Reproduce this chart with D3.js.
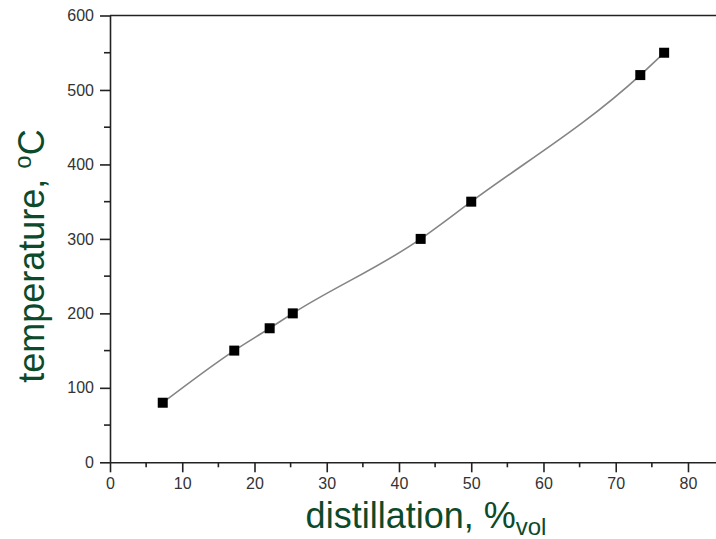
<!DOCTYPE html>
<html><head><meta charset="utf-8">
<script src="https://cdn.jsdelivr.net/npm/d3@7"></script>
<style>body{margin:0;background:#fff}</style>
</head><body>
<svg id="c" width="716" height="539"></svg>
<script>
const distillation = [7.3, 17.2, 22.1, 25.3, 43.0, 50.0, 73.4, 76.7];
const temperature = [80, 150, 180, 200, 300, 350, 520, 550];
const xTicks = [0, 10, 20, 30, 40, 50, 60, 70, 80];
const yTicks = [0, 100, 200, 300, 400, 500, 600];

const svg = d3.select("#c");
const x = d3.scaleLinear().domain([0, 85]).range([110, 724.1]);
const y = d3.scaleLinear().domain([0, 600]).range([462.3, 15.5]);
const axisCol = "#222";
const font = "Arial, Liberation Sans, sans-serif";

// top border
svg.append("line").attr("x1", 110).attr("x2", 716).attr("y1", y(600)).attr("y2", y(600))
  .attr("stroke", axisCol).attr("stroke-width", 1.6);

// x axis
const xMinor = d3.range(5, 85, 10);
const gx = svg.append("g").attr("transform", `translate(0,${y(0)})`);
gx.call(d3.axisBottom(x).tickValues(xTicks).tickFormat(d3.format("d")).tickSize(10).tickSizeOuter(0));
gx.select(".domain").attr("stroke", axisCol).attr("stroke-width", 1.6);
gx.selectAll(".tick line").attr("stroke", axisCol).attr("stroke-width", 1.6);
gx.selectAll(".tick text").attr("font-family", font).attr("font-size", 16).attr("fill", "#333").attr("dy", "0.875em");
gx.selectAll(".minor").data(xMinor).enter().append("line").attr("class", "minor")
  .attr("x1", d => x(d)).attr("x2", d => x(d)).attr("y1", 0).attr("y2", 5)
  .attr("stroke", axisCol).attr("stroke-width", 1.6);

// y axis
const yMinor = d3.range(50, 600, 100);
const gy = svg.append("g").attr("transform", `translate(${x(0)},0)`);
gy.call(d3.axisLeft(y).tickValues(yTicks).tickFormat(d3.format("d")).tickSize(10).tickSizeOuter(0));
gy.select(".domain").attr("stroke", axisCol).attr("stroke-width", 1.6);
gy.selectAll(".tick line").attr("stroke", axisCol).attr("stroke-width", 1.6);
gy.selectAll(".tick text").attr("font-family", font).attr("font-size", 16).attr("fill", "#333").attr("dx", -3);
gy.selectAll(".minor").data(yMinor).enter().append("line").attr("class", "minor")
  .attr("x1", 0).attr("x2", -6).attr("y1", d => y(d)).attr("y2", d => y(d))
  .attr("stroke", axisCol).attr("stroke-width", 1.6);

// curve
const pts = distillation.map((d, i) => [d, temperature[i]]);
const line = d3.line().x(d => x(d[0])).y(d => y(d[1])).curve(d3.curveMonotoneX);
svg.append("path").datum(pts).attr("d", line).attr("fill", "none")
  .attr("stroke", "#858585").attr("stroke-width", 1.6);

// markers
svg.selectAll("rect.pt").data(pts).enter().append("rect").attr("class", "pt")
  .attr("x", d => x(d[0]) - 5).attr("y", d => y(d[1]) - 5)
  .attr("width", 10).attr("height", 10).attr("fill", "#000");

// axis titles
const green = "#0b4a2a";
const xt = svg.append("text").attr("x", 426).attr("y", 528).attr("text-anchor", "middle")
  .attr("font-family", font).attr("font-size", 36).attr("fill", green);
xt.append("tspan").text("distillation, %");
xt.append("tspan").attr("font-size", 24).attr("dy", 7).text("vol");

const yt = svg.append("text").attr("transform", "translate(44,256) rotate(-90)").attr("text-anchor", "middle")
  .attr("font-family", font).attr("font-size", 36).attr("fill", green);
yt.append("tspan").text("temperature, ");
yt.append("tspan").attr("font-size", 24).attr("dy", -13).text("o");
yt.append("tspan").attr("dy", 13).text("C");
</script>
</body></html>
